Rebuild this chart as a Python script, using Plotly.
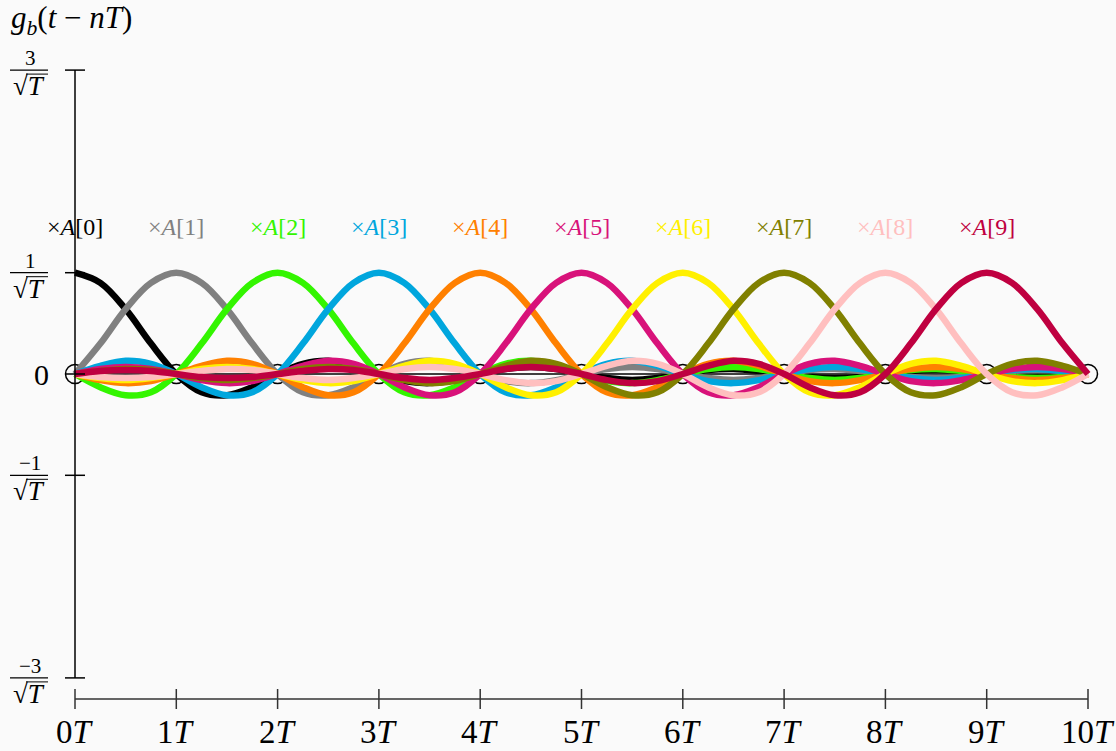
import plotly.graph_objects as go

# ---- data -------------------------------------------------------------
# time grid (in units of T) on which the pulses are sampled
t_grid = [k * 0.25 for k in range(41)]  # 0T ... 10T

# pulse shape g_b(tau), sampled at tau = 0, 0.25T, 0.5T, ... 10T (even pulse)
g_b = [
    1.00, 0.90, 0.64, 0.30,
    0.00, -0.18, -0.21, -0.13,
    0.00, 0.10, 0.13, 0.08,
    0.00, -0.07, -0.09, -0.06,
    0.00, 0.05, 0.07, 0.05,
    0.00, -0.04, -0.06, -0.04,
    0.00, 0.04, 0.05, 0.03,
    0.00, -0.03, -0.04, -0.03,
    0.00, 0.03, 0.04, 0.03,
    0.00, -0.02, -0.03, -0.02,
    0.00,
]

symbol_index = list(range(10))                    # n = 0 ... 9
symbol_labels = [f"×<i>A</i>[{n}]" for n in symbol_index]
symbol_colors = ["#000000", "#808080", "#33f500", "#00a6dd", "#ff8000",
                 "#d8127a", "#fff000", "#808000", "#ffbfbf", "#bf0040"]

x_ticks = list(range(11))
x_tick_labels = [f"{k}<i>T</i>" for k in x_ticks]
y_ticks = [3, 1, 0, -1, -3]
y_tick_numerators = ["3", "1", "0", "−1", "−3"]

# ---- geometry ---------------------------------------------------------
W, H = 1116, 751
X0_PX, SCALE = 75, 101.3   # pixel of t = 0 and pixels per unit
Y0_PX = 374                # pixel of g = 0
SERIF = "Liberation Serif"


def px_x(p):
    return p / W


def px_y(p):
    return 1 - p / H


def data_x(p):
    return (p - X0_PX) / SCALE


def data_y(p):
    return (Y0_PX - p) / SCALE


fig = go.Figure()

# sample markers at the integer multiples of T
fig.add_trace(go.Scatter(
    x=x_ticks, y=[0] * len(x_ticks), mode="markers",
    marker=dict(symbol="circle-open", size=19, color="black",
                line=dict(width=1.5, color="black")),
    hoverinfo="skip"))

# zero baseline
fig.add_trace(go.Scatter(x=[0, 10], y=[0, 0], mode="lines",
                         line=dict(color="black", width=1.5), hoverinfo="skip"))

# shifted pulses g_b(t - nT)
for n, col in zip(symbol_index, symbol_colors):
    ys = [g_b[abs(i - 4 * n)] for i in range(len(t_grid))]
    fig.add_trace(go.Scatter(
        x=t_grid, y=ys, mode="lines", line_shape="spline",
        line=dict(color=col, width=6.5), name=f"n={n}"))

shapes = []
annotations = []

# vertical axis with crossing ticks
shapes.append(dict(type="line", xref="x", yref="y", x0=0, x1=0, y0=-3, y1=3,
                   line=dict(color="black", width=1.5)))
for v in y_ticks:
    shapes.append(dict(type="line", xref="x", yref="y",
                       x0=data_x(X0_PX - 10), x1=data_x(X0_PX + 10), y0=v, y1=v,
                       line=dict(color="black", width=1.5)))

# horizontal axis with crossing ticks
AX_Y = data_y(699)
shapes.append(dict(type="line", xref="x", yref="y", x0=0, x1=10, y0=AX_Y, y1=AX_Y,
                   line=dict(color="#333333", width=1.5)))
for k in x_ticks:
    shapes.append(dict(type="line", xref="x", yref="y", x0=k, x1=k,
                       y0=data_y(689), y1=data_y(709),
                       line=dict(color="#333333", width=1.5)))
for k, lab in zip(x_ticks, x_tick_labels):
    annotations.append(dict(x=k, y=data_y(732), xref="x", yref="y", text=lab,
                            showarrow=False, font=dict(family=SERIF, size=33, color="black"),
                            xanchor="center", yanchor="middle"))

# vertical tick labels as stacked fractions k / sqrt(T)
FRAC_CX = 29
for v, num in zip(y_ticks, y_tick_numerators):
    bar_py = Y0_PX - v * SCALE
    if v == 0:
        annotations.append(dict(x=px_x(41), y=px_y(bar_py + 1), xref="paper", yref="paper",
                                text="0", showarrow=False,
                                font=dict(family=SERIF, size=30, color="black"),
                                xanchor="center", yanchor="middle"))
        continue
    annotations.append(dict(x=px_x(FRAC_CX + 1), y=px_y(bar_py - 12), xref="paper", yref="paper",
                            text=num, showarrow=False,
                            font=dict(family=SERIF, size=21, color="black"),
                            xanchor="center", yanchor="middle"))
    shapes.append(dict(type="line", xref="paper", yref="paper",
                       x0=px_x(FRAC_CX - 19), x1=px_x(FRAC_CX + 19),
                       y0=px_y(bar_py), y1=px_y(bar_py),
                       line=dict(color="black", width=1.2)))
    annotations.append(dict(x=px_x(FRAC_CX), y=px_y(bar_py + 16), xref="paper", yref="paper",
                            text="√<i>T</i>", showarrow=False,
                            font=dict(family=SERIF, size=27, color="black"),
                            xanchor="center", yanchor="middle"))
    # radical vinculum over T
    shapes.append(dict(type="line", xref="paper", yref="paper",
                       x0=px_x(FRAC_CX - 3), x1=px_x(FRAC_CX + 19),
                       y0=px_y(bar_py + 4), y1=px_y(bar_py + 4),
                       line=dict(color="black", width=1)))

# coefficient labels above each pulse
for n, lab, col in zip(symbol_index, symbol_labels, symbol_colors):
    annotations.append(dict(x=n, y=data_y(227), xref="x", yref="y", text=lab,
                            showarrow=False, font=dict(family=SERIF, size=24, color=col),
                            xanchor="center", yanchor="middle"))

# ordinate title
annotations.append(dict(x=px_x(9), y=px_y(20), xref="paper", yref="paper",
                        text="<i>g</i><sub><i>b</i></sub>(<i>t</i> − <i>nT</i>)",
                        showarrow=False, font=dict(family=SERIF, size=31, color="black"),
                        xanchor="left", yanchor="middle"))

fig.update_layout(
    width=W, height=H,
    margin=dict(l=0, r=0, t=0, b=0),
    paper_bgcolor="#fafafa", plot_bgcolor="#fafafa",
    showlegend=False,
    xaxis=dict(visible=False, range=[data_x(0), data_x(W)], fixedrange=True),
    yaxis=dict(visible=False, range=[data_y(H), data_y(0)], fixedrange=True),
    shapes=shapes, annotations=annotations,
)

fig.write_html("out.html")
